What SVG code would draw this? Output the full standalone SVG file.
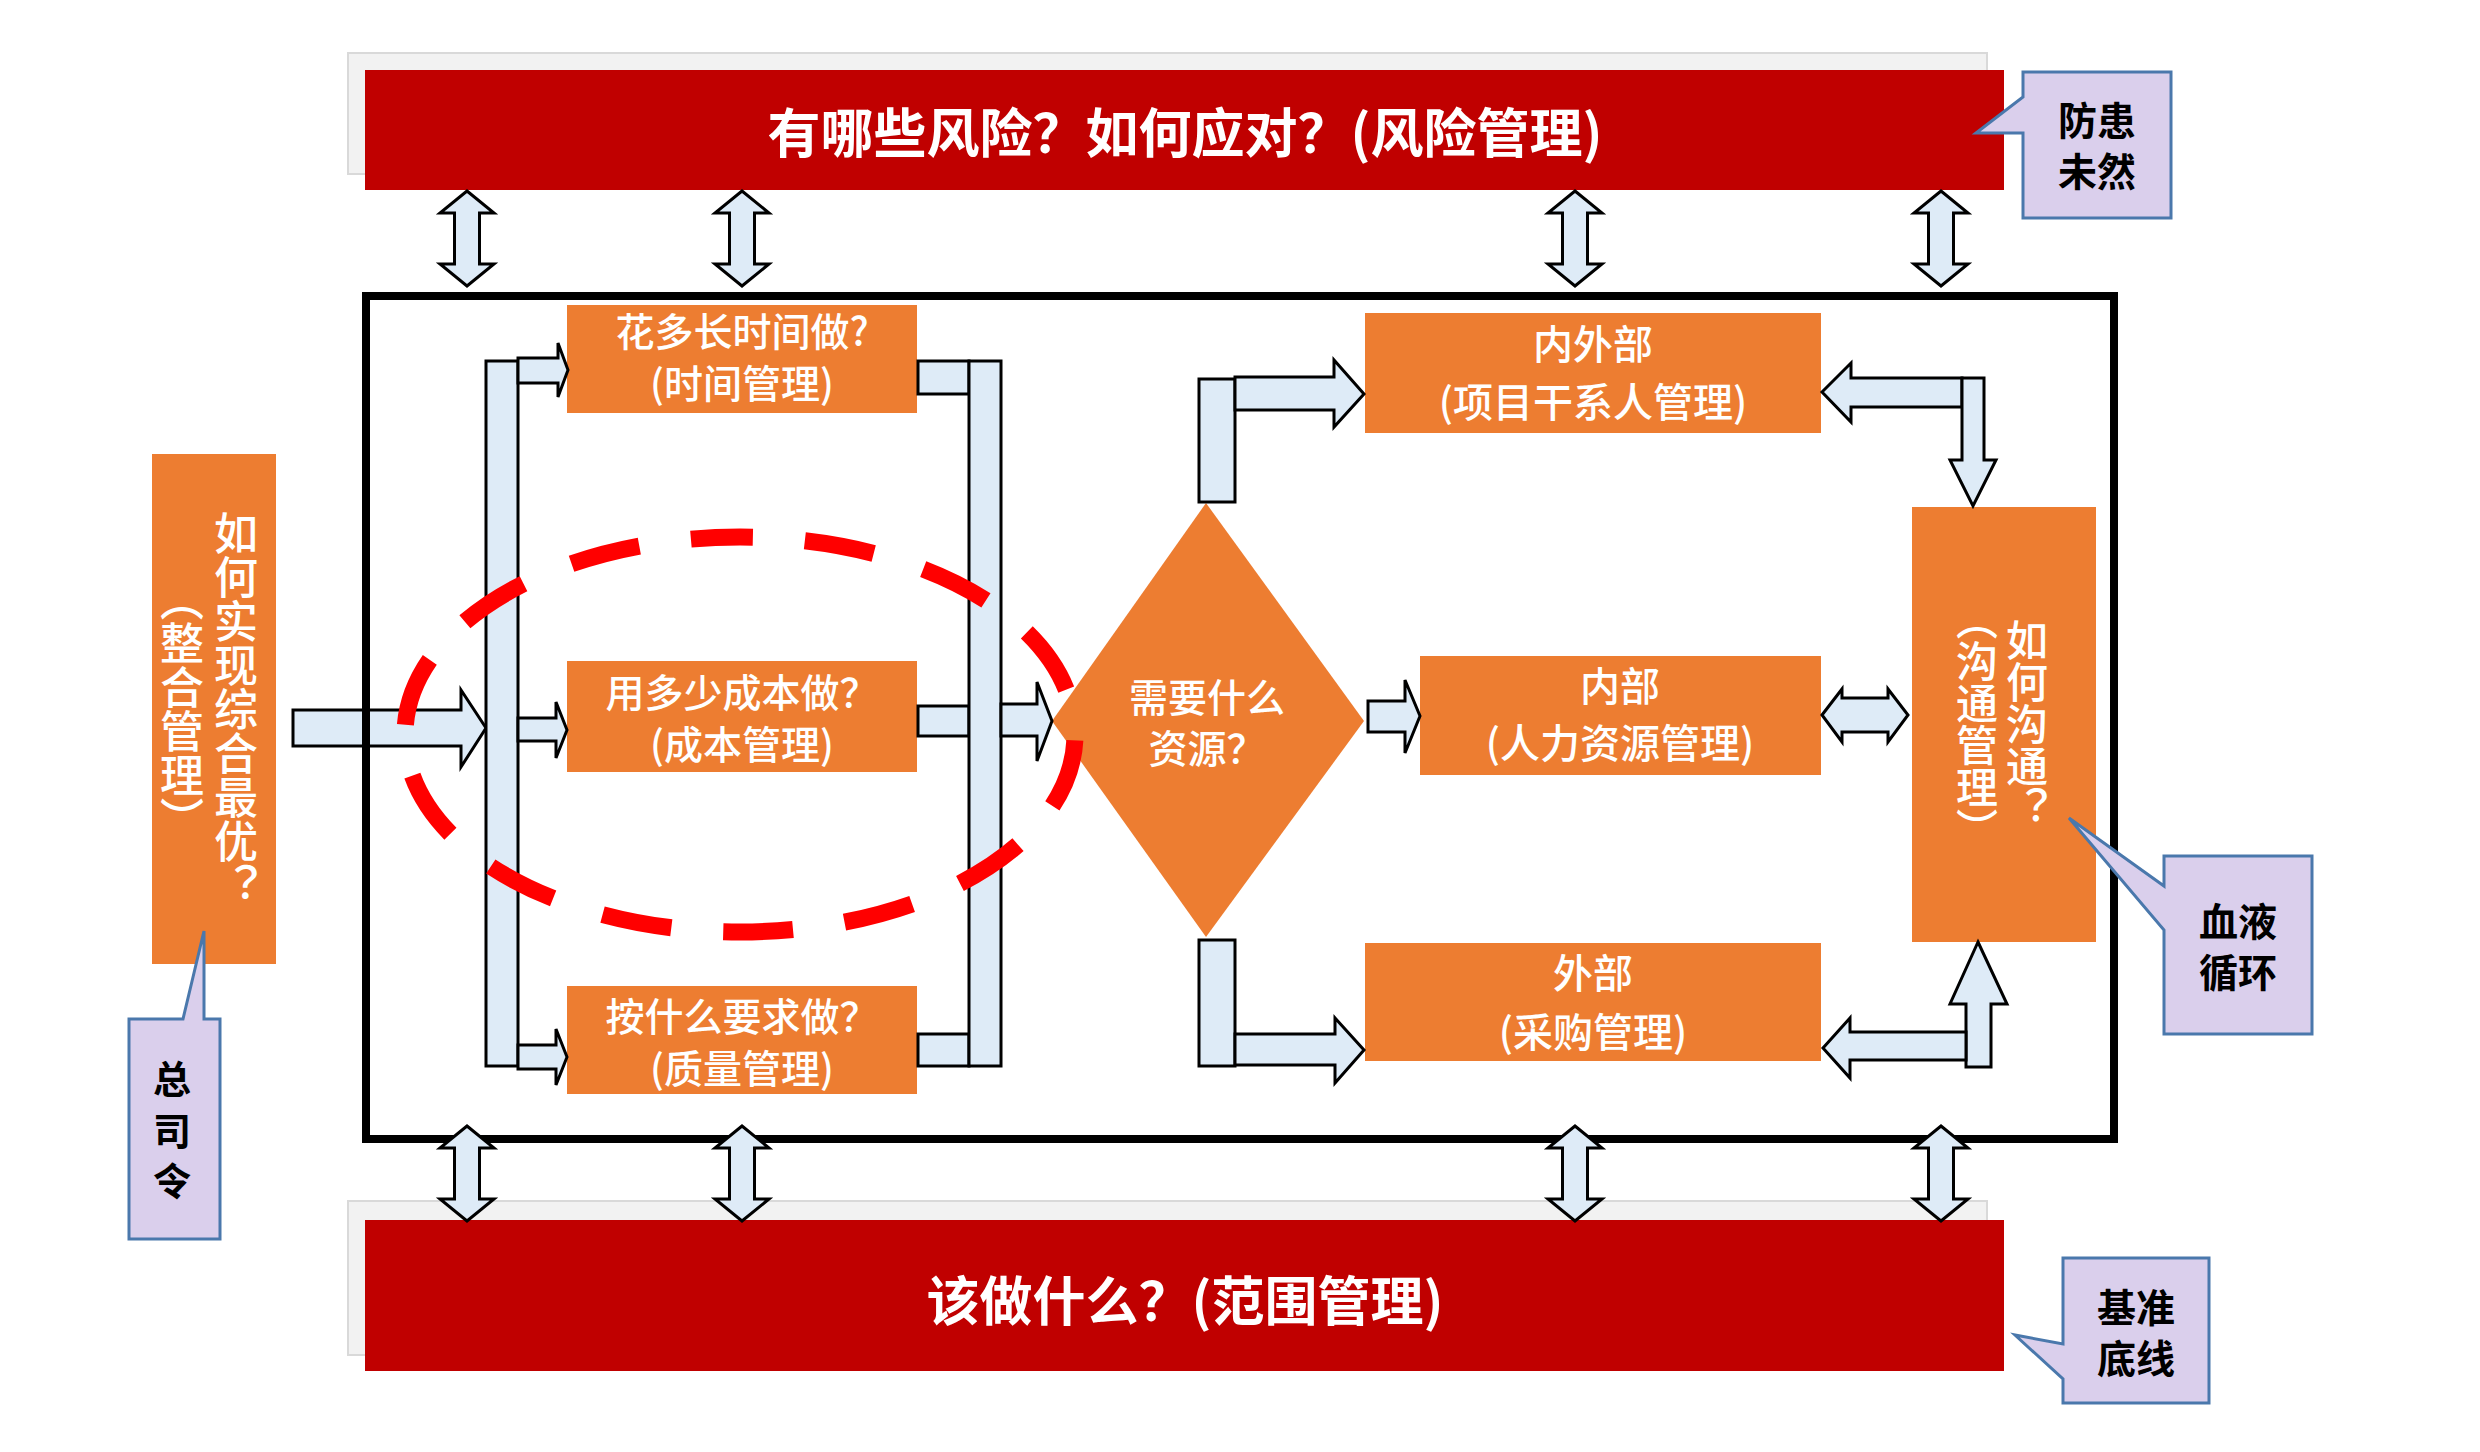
<svg xmlns="http://www.w3.org/2000/svg" width="2480" height="1452" viewBox="0 0 2480 1452">
<style>
  .shadow{fill:#F2F2F2;stroke:#D9D9D9;stroke-width:2}
  .bar{fill:#C00000}
  .box{fill:#ED7D31}
  .arr{fill:#DEEBF7;stroke:#000;stroke-width:3;stroke-linejoin:miter}
  .call{fill:#DACFEC;stroke:#4A78AC;stroke-width:3}
  .t{font-family:"Noto Sans CJK SC","Noto Sans",sans-serif;fill:#fff;text-anchor:middle;dominant-baseline:central}
  .tb{font-size:53px;font-weight:bold}
  .tn{font-size:40px;font-weight:500}
  .tl{font-size:39px;font-weight:500}
  .tv{font-size:44px;font-weight:500;writing-mode:vertical-rl}
  .tc{font-family:"Noto Sans CJK SC","Noto Sans",sans-serif;fill:#000;font-size:39px;font-weight:bold;text-anchor:middle;dominant-baseline:central}
</style>
<rect width="2480" height="1452" fill="#fff"/>

<g id="risk">
  <rect class="shadow" x="348" y="53" width="1639" height="121"/>
  <rect class="bar" x="365" y="70" width="1639" height="120"/>
  <text class="t tb" x="1185" y="130">有哪些风险？如何应对？(风险管理)</text>
</g>
<g id="scope">
  <rect class="shadow" x="348" y="1201" width="1639" height="154"/>
  <rect class="bar" x="365" y="1220" width="1639" height="151"/>
  <text class="t tb" x="1185" y="1298">该做什么？(范围管理)</text>
</g>

<g id="integration">
  <rect class="box" x="152" y="454" width="124" height="510"/>
  <text class="t tv" x="236" y="709">如何实现综合最优？</text>
  <text class="t tv" x="182" y="709">（整合管理）</text>
</g>

<g id="connectors-left">
  <polygon class="arr" points="293,710 461,710 461,690 486,728 461,767 461,746 293,746"/>
</g>

<g id="frame">
  <rect x="366" y="296" width="1748" height="843" fill="none" stroke="#000" stroke-width="8"/>
</g>

<g id="time">
  <rect class="box" x="567" y="305" width="350" height="108"/>
  <text class="t tl" x="742" y="329">花多长时间做?<tspan x="742" dy="52">(时间管理)</tspan></text>
</g>
<g id="cost">
  <rect class="box" x="567" y="661" width="350" height="111"/>
  <text class="t tl" x="742" y="690">用多少成本做？<tspan x="742" dy="52">(成本管理)</tspan></text>
</g>
<g id="quality">
  <rect class="box" x="567" y="986" width="350" height="108"/>
  <text class="t tl" x="742" y="1014">按什么要求做？<tspan x="742" dy="52">(质量管理)</tspan></text>
</g>

<g id="resources">
  <polygon class="box" points="1206,503 1364,721 1206,937 1052,721"/>
  <text class="t" style="font-size:39px;font-weight:500" x="1207" y="695">需要什么<tspan x="1207" dy="51">资源？</tspan></text>
</g>

<g id="stakeholder">
  <rect class="box" x="1365" y="313" width="456" height="120"/>
  <text class="t tn" x="1593" y="342">内外部<tspan x="1593" dy="58">(项目干系人管理)</tspan></text>
</g>
<g id="hr">
  <rect class="box" x="1420" y="656" width="401" height="119"/>
  <text class="t tn" x="1620" y="684">内部<tspan x="1620" dy="57">(人力资源管理)</tspan></text>
</g>
<g id="procurement">
  <rect class="box" x="1365" y="943" width="456" height="118"/>
  <text class="t tn" x="1593" y="971">外部<tspan x="1593" dy="59">(采购管理)</tspan></text>
</g>
<g id="communication">
  <rect class="box" x="1912" y="507" width="184" height="435"/>
  <text class="t tv" style="font-size:42px" x="2027" y="724">如何沟通？</text>
  <text class="t tv" style="font-size:42px" x="1977" y="724">（沟通管理）</text>
</g>

<g id="connectors">
  <polygon class="arr" points="467,191 494,213 479.5,213 479.5,264 494,264 467,286 440,264 454.5,264 454.5,213 440,213"/>
  <polygon class="arr" points="742,191 769,213 754.5,213 754.5,264 769,264 742,286 715,264 729.5,264 729.5,213 715,213"/>
  <polygon class="arr" points="1575,191 1602,213 1587.5,213 1587.5,264 1602,264 1575,286 1548,264 1562.5,264 1562.5,213 1548,213"/>
  <polygon class="arr" points="1941,191 1968,213 1953.5,213 1953.5,264 1968,264 1941,286 1914,264 1928.5,264 1928.5,213 1914,213"/>
  <polygon class="arr" points="467,1126 494,1148 479.5,1148 479.5,1199 494,1199 467,1221 440,1199 454.5,1199 454.5,1148 440,1148"/>
  <polygon class="arr" points="742,1126 769,1148 754.5,1148 754.5,1199 769,1199 742,1221 715,1199 729.5,1199 729.5,1148 715,1148"/>
  <polygon class="arr" points="1575,1126 1602,1148 1587.5,1148 1587.5,1199 1602,1199 1575,1221 1548,1199 1562.5,1199 1562.5,1148 1548,1148"/>
  <polygon class="arr" points="1941,1126 1968,1148 1953.5,1148 1953.5,1199 1968,1199 1941,1221 1914,1199 1928.5,1199 1928.5,1148 1914,1148"/>

  <rect class="arr" x="486" y="361" width="32" height="705"/>
  <polygon class="arr" points="518,358 558,358 558,343 568,370 558,397 558,383 518,383"/>
  <polygon class="arr" points="518,718 556,718 556,702 567,730 556,758 556,741 518,741"/>
  <polygon class="arr" points="518,1045 556,1045 556,1029 567,1057 556,1085 556,1069 518,1069"/>

  <rect class="arr" x="918" y="361" width="51" height="33"/>
  <rect class="arr" x="918" y="706" width="51" height="30"/>
  <rect class="arr" x="918" y="1034" width="51" height="32"/>
  <rect class="arr" x="969" y="361" width="32" height="705"/>
  <polygon class="arr" points="1001,704 1037,704 1037,682 1052,721 1037,761 1037,736 1001,736"/>

  <rect class="arr" x="1199" y="379" width="36" height="123"/>
  <polygon class="arr" points="1235,377 1334,377 1334,360 1364,394 1334,427 1334,410 1235,410"/>
  <rect class="arr" x="1199" y="940" width="36" height="126"/>
  <polygon class="arr" points="1235,1034 1335,1034 1335,1018 1364,1050 1335,1083 1335,1065 1235,1065"/>
  <polygon class="arr" points="1368,701 1405,701 1405,680 1420,716 1405,753 1405,732 1368,732"/>

  <polygon class="arr" points="1822,392 1851,363 1851,378 1962,378 1962,407 1851,407 1851,422"/>
  <polygon class="arr" points="1962,378 1984,378 1984,460 1996,460 1973,506 1950,460 1962,460"/>
  <polygon class="arr" points="1822,715 1842,689 1842,698 1888,698 1888,689 1908,715 1888,742 1888,732 1842,732 1842,742"/>
  <polygon class="arr" points="1978,942 2007,1004 1991,1004 1991,1067 1966,1067 1966,1004 1950,1004"/>
  <polygon class="arr" points="1823,1048 1850,1018 1850,1032 1966,1032 1966,1060 1850,1060 1850,1078"/>
</g>

<g id="focus">
  <path d="M740,537 A335,197.5 0 1,1 740,932 A335,197.5 0 1,1 740,537" fill="none" stroke="#FF0000" stroke-width="17" stroke-dasharray="70 52" stroke-dashoffset="57"/>
</g>

<g id="note-risk">
  <path class="call" d="M2023,72 H2171 V218 H2023 V133 L1976,133 L2023,97 Z"/>
  <text class="tc" x="2097" y="118">防患<tspan x="2097" dy="51">未然</tspan></text>
</g>
<g id="note-integration">
  <path class="call" d="M129,1019 H183 L204,931 V1019 H220 V1239 H129 Z"/>
  <text class="tc" style="font-size:38px" x="172" y="1076">总<tspan x="172" dy="52">司</tspan><tspan x="172" dy="50">令</tspan></text>
</g>
<g id="note-communication">
  <path class="call" d="M2164,856 H2312 V1034 H2164 V930 L2069,818 L2164,886 Z"/>
  <text class="tc" x="2238" y="919">血液<tspan x="2238" dy="51">循环</tspan></text>
</g>
<g id="note-scope">
  <path class="call" d="M2063,1258 H2209 V1403 H2063 V1379 L2015,1335 L2063,1344 Z"/>
  <text class="tc" x="2136" y="1305">基准<tspan x="2136" dy="51">底线</tspan></text>
</g>
</svg>
